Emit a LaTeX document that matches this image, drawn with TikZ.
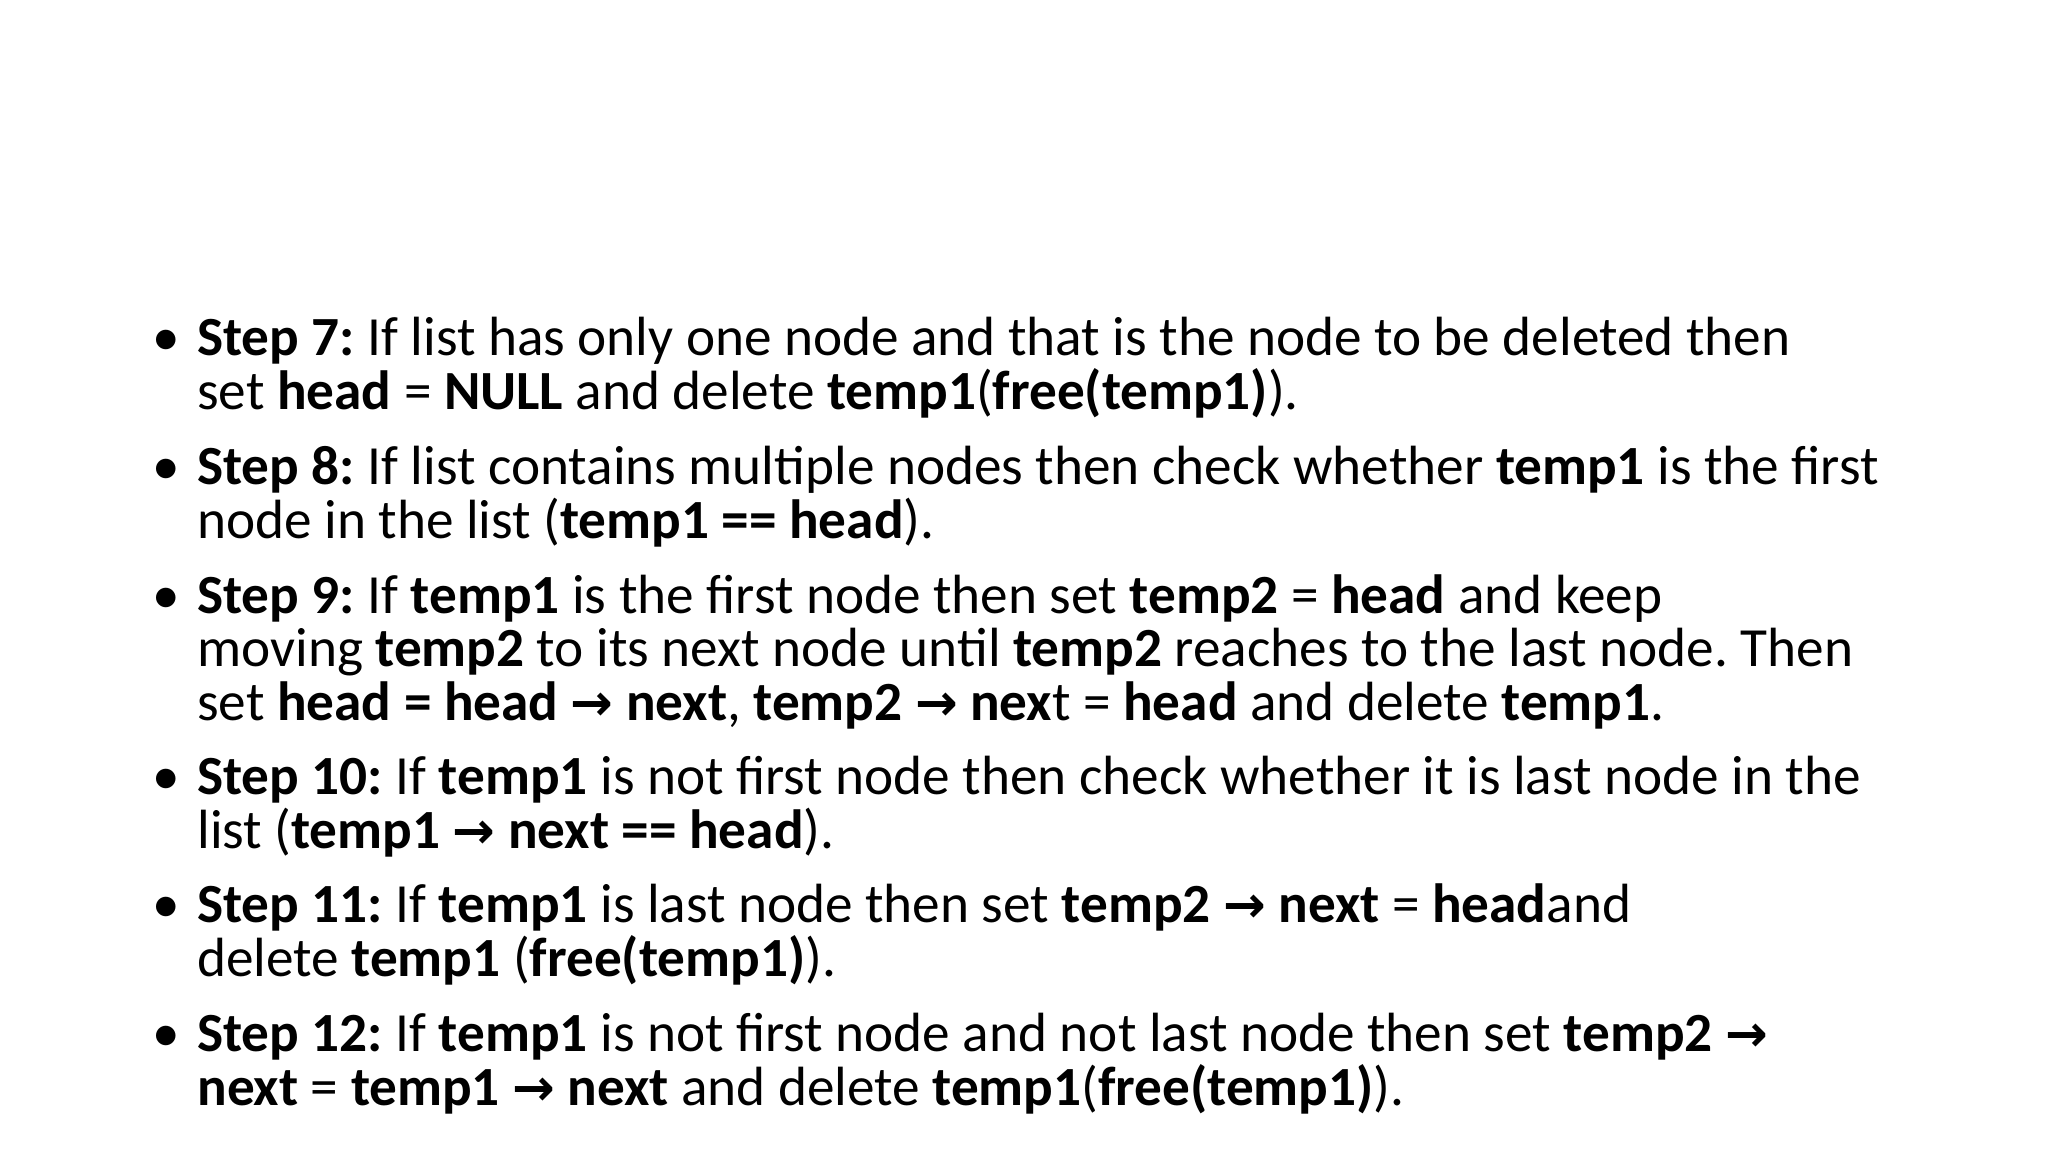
\documentclass[tikz,border=0pt]{standalone}
\usepackage{fontspec}
\setmainfont{Carlito}
\newfontfamily\arrfont{DejaVu Sans}
\newcommand{\ar}{{\arrfont\bfseries\fontsize{24}{28}\selectfont →}}
\begin{document}
\frenchspacing
\begin{tikzpicture}[x=0.2171mm,y=-0.2171mm,
  ln/.style={anchor=base west,inner sep=0pt,font=\fontsize{26}{31}\selectfont},
  bl/.style={anchor=base,inner sep=0pt,font=\fontsize{26}{31}\selectfont}]
\useasboundingbox (0,0) rectangle (1560,877.5);
\foreach \y/\n in {271/b1,369/b2,467/b3,605/b4,703/b5,801/b6}
  \node[bl] (\n) at (127,\y) {•};
\node[ln] (l1) at (150,271) {\textbf{Step 7:} If list has only one node and that is the node to be deleted then};
\node[ln] (l2) at (150,312) {set \textbf{head} = \textbf{NULL} and delete \textbf{temp1}(\textbf{free(temp1)}).};
\node[ln] (l3) at (150,369) {\textbf{Step 8:} If list contains multiple nodes then check whether \textbf{temp1} is the first};
\node[ln] (l4) at (150,410) {node in the list (\textbf{temp1 == head}).};
\node[ln] (l5) at (150,467) {\textbf{Step 9:} If \textbf{temp1} is the first node then set \textbf{temp2} = \textbf{head} and keep};
\node[ln] (l6) at (150,508) {moving \textbf{temp2} to its next node until \textbf{temp2} reaches to the last node. Then};
\node[ln] (l7) at (150,549) {set \textbf{head = head \ar{} next}, \textbf{temp2 \ar{} nex}t = \textbf{head} and delete \textbf{temp1}.};
\node[ln] (l8) at (150,605) {\textbf{Step 10:} If \textbf{temp1} is not first node then check whether it is last node in the};
\node[ln] (l9) at (150,646) {list (\textbf{temp1 \ar{} next == head}).};
\node[ln] (l10) at (150,703) {\textbf{Step 11:} If \textbf{temp1} is last node then set \textbf{temp2 \ar{} next} = \textbf{head}and};
\node[ln] (l11) at (150,744) {delete \textbf{temp1} (\textbf{free(temp1)}).};
\node[ln] (l12) at (150,801) {\textbf{Step 12:} If \textbf{temp1} is not first node and not last node then set \textbf{temp2 \ar}};
\node[ln] (l13) at (150,842) {\textbf{next} = \textbf{temp1 \ar{} next} and delete \textbf{temp1}(\textbf{free(temp1)}).};
\end{tikzpicture}
\end{document}
